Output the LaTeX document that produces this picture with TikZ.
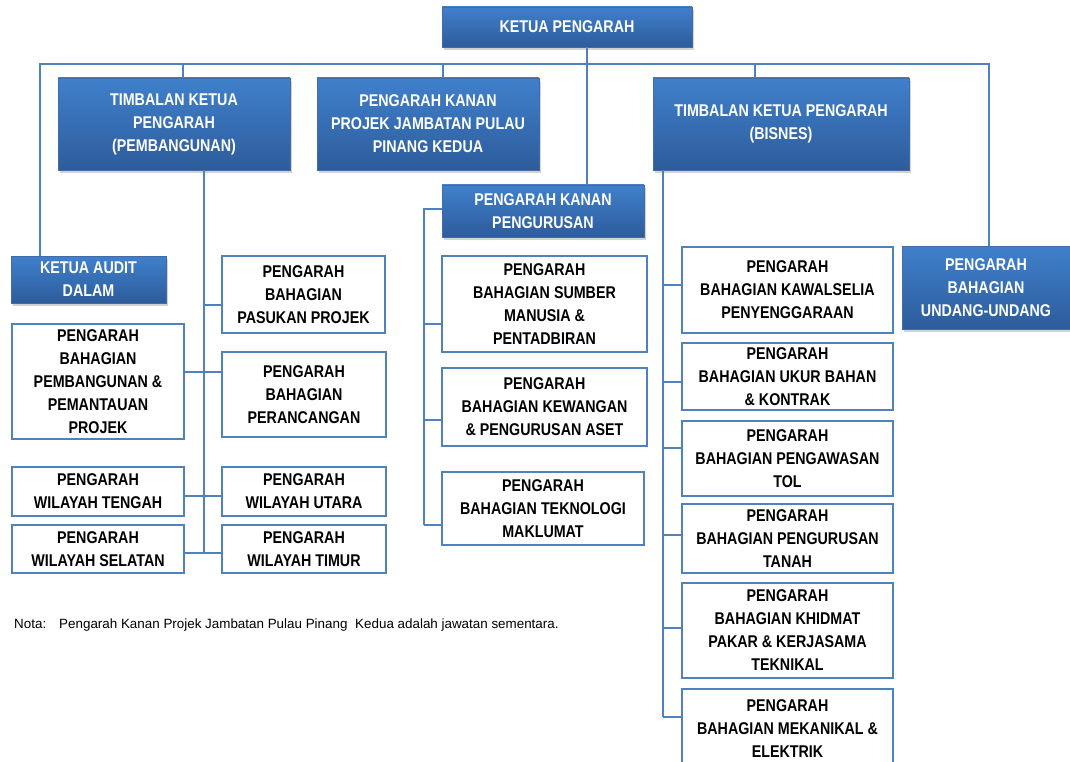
\documentclass[tikz,border=0pt]{standalone}
\usepackage{fontspec}
\setmainfont{Liberation Sans}
\newfontfamily\boxfont[FakeStretch=0.84]{Liberation Sans}
\usetikzlibrary{shadows}
\definecolor{lineblue}{RGB}{79,129,189}
\definecolor{boxtop}{RGB}{64,128,204}
\definecolor{boxbot}{RGB}{45,92,155}
\tikzset{
  sz/.style 2 args={minimum width=#1pt, minimum height=#2pt},
  basebox/.style={inner sep=0pt, align=center, font=\boxfont\bfseries\fontsize{17}{23}\selectfont},
  bluebox/.style={basebox, text=white, top color=boxtop, bottom color=boxbot, draw=boxbot!90!white, line width=0.6pt,
    drop shadow={opacity=0.35, shadow xshift=2pt, shadow yshift=-3pt}},
  whitebox/.style={basebox, text=black, fill=white, draw=lineblue, line width=1.5pt},
  conn/.style={draw=lineblue, line width=1.5pt},
  nota/.style={anchor=west, inner sep=0pt, font=\fontsize{13.4}{15}\selectfont}
}
\begin{document}
\begin{tikzpicture}[x=1pt,y=-1pt]
\path[use as bounding box, clip] (0,0) rectangle (1070,762);
\fill[white] (0,0) rectangle (1070,762);

% blue boxes
\node[bluebox, sz={250}{40}] (kp) at (567,27) {KETUA PENGARAH};
\node[bluebox, sz={232}{92}] (tp) at (174,124) {TIMBALAN KETUA\\PENGARAH\\(PEMBANGUNAN)};
\node[bluebox, sz={222}{92}] (pkp) at (428,124) {PENGARAH KANAN\\PROJEK JAMBATAN PULAU\\PINANG KEDUA};
\node[bluebox, sz={256}{92}] (tb) at (781,124) {TIMBALAN KETUA PENGARAH\\(BISNES)};
\node[bluebox, sz={202}{52}] (kpu) at (543,211) {PENGARAH KANAN\\PENGURUSAN};
\node[bluebox, sz={155}{47}] (kad) at (88.5,279.5) {KETUA AUDIT\\DALAM};
\node[bluebox, sz={168}{83}] (ud) at (986,287.5) {PENGARAH\\BAHAGIAN\\UNDANG-UNDANG};

% white boxes - pembangunan
\node[whitebox, sz={163}{77}] (pp) at (303.5,294.5) {PENGARAH\\BAHAGIAN\\PASUKAN PROJEK};
\node[whitebox, sz={172}{115}] (pb) at (98,381.5) {PENGARAH\\BAHAGIAN\\PEMBANGUNAN \&\\PEMANTAUAN\\PROJEK};
\node[whitebox, sz={164}{85}] (pr) at (304,394.5) {PENGARAH\\BAHAGIAN\\PERANCANGAN};
\node[whitebox, sz={172}{49}] (wt) at (98,491.5) {PENGARAH\\WILAYAH TENGAH};
\node[whitebox, sz={164}{49}] (wu) at (304,491.5) {PENGARAH\\WILAYAH UTARA};
\node[whitebox, sz={172}{48}] (ws) at (98,549) {PENGARAH\\WILAYAH SELATAN};
\node[whitebox, sz={164}{48}] (wtm) at (304,549) {PENGARAH\\WILAYAH TIMUR};

% white boxes - pengurusan
\node[whitebox, sz={205}{96}] (sm) at (544.5,304) {PENGARAH\\BAHAGIAN SUMBER\\MANUSIA \&\\PENTADBIRAN};
\node[whitebox, sz={205}{78}] (kw) at (544.5,407) {PENGARAH\\BAHAGIAN KEWANGAN\\\& PENGURUSAN ASET};
\node[whitebox, sz={202}{73}] (tk) at (543,508.5) {PENGARAH\\BAHAGIAN TEKNOLOGI\\MAKLUMAT};

% white boxes - bisnes
\node[whitebox, sz={211}{86}] (kws) at (787.5,290) {PENGARAH\\BAHAGIAN KAWALSELIA\\PENYENGGARAAN};
\node[whitebox, sz={211}{67}] (ub) at (787.5,376.5) {PENGARAH\\BAHAGIAN UKUR BAHAN\\\& KONTRAK};
\node[whitebox, sz={211}{75}] (tol) at (787.5,458.5) {PENGARAH\\BAHAGIAN PENGAWASAN\\TOL};
\node[whitebox, sz={211}{69}] (tn) at (787.5,538.5) {PENGARAH\\BAHAGIAN PENGURUSAN\\TANAH};
\node[whitebox, sz={211}{95}] (kh) at (787.5,630.5) {PENGARAH\\BAHAGIAN KHIDMAT\\PAKAR \& KERJASAMA\\TEKNIKAL};
\node[whitebox, sz={211}{79}] (mk) at (787.5,728.5) {PENGARAH\\BAHAGIAN MEKANIKAL \&\\ELEKTRIK};

% bus
\coordinate (bL) at (40,64);
\coordinate (bR) at (989,64);
\coordinate (bM) at (587,64);
\coordinate (bT) at (183,64);
\coordinate (bP) at (443,64);
\coordinate (bB) at (755,64);
\draw[conn] (kad.north -| bL) -- (bL) -- (bR) -- (ud.north -| bR);
\draw[conn] (kp.south -| bM) -- (kpu.north -| bM);
\draw[conn] (bT) -- (tp.north -| bT);
\draw[conn] (bP) -- (pkp.north -| bP);
\draw[conn] (bB) -- (tb.north -| bB);

% pembangunan trunk
\coordinate (tA) at (204,0);
\coordinate (jA1) at (204,305);
\coordinate (jA2) at (204,372);
\coordinate (jA3) at (204,496);
\coordinate (jA4) at (204,553);
\draw[conn] (tp.south -| tA) -- (jA4);
\draw[conn] (jA1) -- (pp.west |- jA1);
\draw[conn] (pb.east |- jA2) -- (pr.west |- jA2);
\draw[conn] (wt.east |- jA3) -- (wu.west |- jA3);
\draw[conn] (ws.east |- jA4) -- (wtm.west |- jA4);

% pengurusan trunk
\coordinate (jB0) at (424,209);
\coordinate (jB1) at (424,324);
\coordinate (jB2) at (424,420);
\coordinate (jB3) at (424,525);
\draw[conn] (kpu.west |- jB0) -- (jB0) -- (jB3);
\draw[conn] (jB1) -- (sm.west |- jB1);
\draw[conn] (jB2) -- (kw.west |- jB2);
\draw[conn] (jB3) -- (tk.west |- jB3);

% bisnes trunk
\coordinate (tC) at (663,0);
\coordinate (jC1) at (663,285);
\coordinate (jC2) at (663,382);
\coordinate (jC3) at (663,448);
\coordinate (jC4) at (663,535);
\coordinate (jC5) at (663,628);
\coordinate (jC6) at (663,717);
\draw[conn] (tb.south -| tC) -- (jC6);
\draw[conn] (jC1) -- (kws.west |- jC1);
\draw[conn] (jC2) -- (ub.west |- jC2);
\draw[conn] (jC3) -- (tol.west |- jC3);
\draw[conn] (jC4) -- (tn.west |- jC4);
\draw[conn] (jC5) -- (kh.west |- jC5);
\draw[conn] (jC6) -- (mk.west |- jC6);

\node[nota] (note) at (14,625) {Nota:\hspace{0.6em} Pengarah Kanan Projek Jambatan Pulau Pinang\hspace{0.3em} Kedua adalah jawatan sementara.};
\end{tikzpicture}
\end{document}
